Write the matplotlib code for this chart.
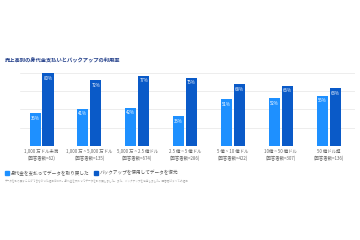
import matplotlib
matplotlib.use("Agg")
import matplotlib.pyplot as plt
import numpy as np
from matplotlib.patches import Rectangle

plt.rcParams['font.family'] = ['Noto Sans CJK JP', 'DejaVu Sans']

categories = ["1,000 万ドル未満\n(回答者数=62)",
              "1,000 万 ~ 5,000 万ドル\n(回答者数=135)",
              "5,000 万 ~ 2.5 億ドル\n(回答者数=674)",
              "2.5 億 ~ 5 億ドル\n(回答者数=286)",
              "5 億 ~ 10 億ドル\n(回答者数=422)",
              "10億 ~ 50 億ドル\n(回答者数=307)",
              "50 億ドル超\n(回答者数=136)"]
paid = [36, 41, 42, 33, 51, 52, 55]
backup = [80, 72, 77, 75, 68, 66, 63]
series_names = ["身代金を支払ってデータを取り戻した", "バックアップを使用してデータを復元"]
title = "売上高別の身代金支払いとバックアップの利用率"
footnote = "データを取り戻すことができなかった組織は除外。身代金を支払ってデータを取り戻しました。また、バックアップを使用しました。回答者はすべての組織"

c_light = "#1E90FF"
c_dark = "#0A5AC8"

fig = plt.figure(figsize=(3.6, 2.4), dpi=100)
ax = fig.add_axes([20/360, 0.392, 335/360, 0.304])
x = np.arange(len(categories))
w = 0.23
off = 0.135
b1 = ax.bar(x - off, paid, w, color=c_light, clip_on=False, zorder=3)
b2 = ax.bar(x + off, backup, w, color=c_dark, clip_on=False, zorder=3)
for bars, vals in ((b1, paid), (b2, backup)):
    for r, v in zip(bars, vals):
        ax.text(r.get_x() + r.get_width()/2, v - 3, f"{v}%", ha='center', va='top',
                color='white', fontsize=3.2, zorder=4)
ax.set_xlim(-0.45, 6.55)
ax.set_ylim(0, 80)
ax.set_yticks([0, 20, 40, 60, 80])
ax.yaxis.grid(True, color='#e6e6e6', linewidth=0.5, zorder=0)
ax.set_yticklabels([])
ax.tick_params(axis='both', length=0)
for s in ax.spines.values():
    s.set_visible(False)
ax.set_xticks(x)
ax.set_xticklabels(categories, fontsize=3.2, color='#666666', linespacing=1.5)
ax.tick_params(axis='x', pad=2)

fig.text(5/360, 1 - 61/240, title, fontsize=3.8, fontweight='bold', color='#1F3C88', va='center')

fig.patches.append(Rectangle((5/360, 1 - 175/240), 4/360, 4/240, color=c_light, transform=fig.transFigure))
fig.text(11/360, 1 - 173/240, series_names[0], fontsize=3.3, color='#555555', va='center')
fig.patches.append(Rectangle((94/360, 1 - 175/240), 4/360, 4/240, color=c_dark, transform=fig.transFigure))
fig.text(100/360, 1 - 173/240, series_names[1], fontsize=3.3, color='#555555', va='center')
fig.text(5/360, 1 - 181/240, footnote, fontsize=1.9, color='#aaaaaa', va='center')

fig.savefig("out.png", dpi=100)
